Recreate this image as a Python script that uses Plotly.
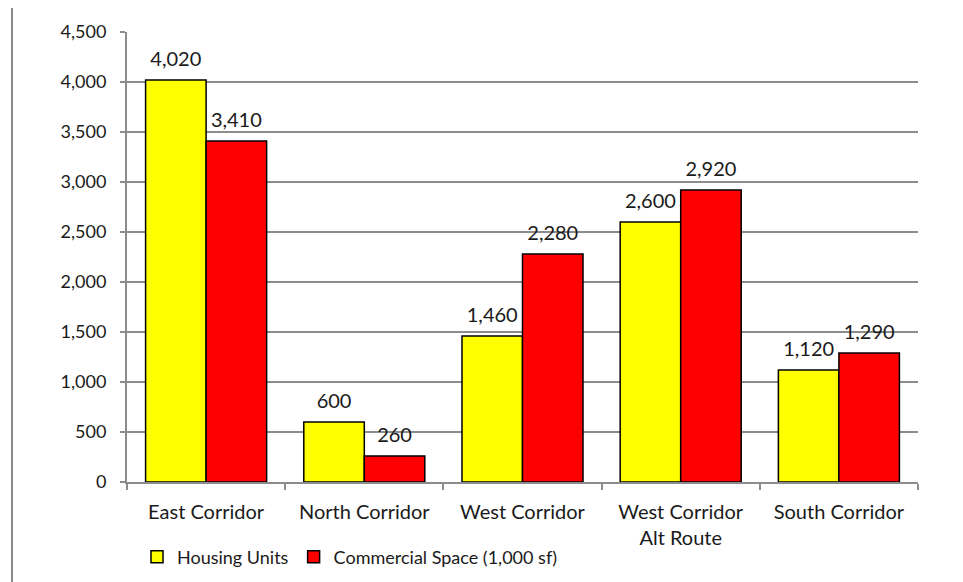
import plotly.graph_objects as go

categories = ["East Corridor", "North Corridor", "West Corridor", "West Corridor<br>Alt Route", "South Corridor"]
housing_units = [4020, 600, 1460, 2600, 1120]
commercial_space = [3410, 260, 2280, 2920, 1290]
y_ticks = [0, 500, 1000, 1500, 2000, 2500, 3000, 3500, 4000, 4500]
y_tick_labels = ["0", "500", "1,000", "1,500", "2,000", "2,500", "3,000", "3,500", "4,000", "4,500"]

font_family = "Lato, Open Sans, sans-serif"
txt_color = "#1a1a1a"
grid_color = "#8c8c8c"
gap = 0.235

fig = go.Figure()
fig.add_trace(go.Bar(
    x=categories, y=housing_units, name="Housing Units",
    marker=dict(color="#FFFF00", line=dict(color="black", width=1.5)),
    hoverinfo="x+y",
))
fig.add_trace(go.Bar(
    x=categories, y=commercial_space, name="Commercial Space (1,000 sf)",
    marker=dict(color="#FF0000", line=dict(color="black", width=1.5)),
    hoverinfo="x+y",
))
# value labels, grouped the same way as the bars
for vals in (housing_units, commercial_space):
    fig.add_trace(go.Scatter(
        x=categories, y=vals, mode="markers+text",
        text=[f"{v:,}" for v in vals], textposition="top center",
        textfont=dict(size=20, color=txt_color, family=font_family),
        marker=dict(size=13, color="rgba(0,0,0,0)"),
        showlegend=False, hoverinfo="skip", cliponaxis=False,
    ))

fig.update_layout(
    width=955, height=574,
    margin=dict(l=119, r=45, t=24, b=100, autoexpand=False),
    paper_bgcolor="white", plot_bgcolor="white",
    barmode="group", bargap=gap, bargroupgap=0,
    scattermode="group", scattergap=gap,
    font=dict(family=font_family, size=18, color=txt_color),
    showlegend=True,
    legend=dict(orientation="h", xref="container", yref="container",
                x=(137 - 8) / 955, y=(582 - 557) / 574, xanchor="left", yanchor="middle",
                font=dict(size=18, color=txt_color), itemwidth=30, traceorder="normal",
                bgcolor="rgba(0,0,0,0)"),
    xaxis=dict(
        showline=True, linecolor=grid_color, linewidth=2,
        ticks="outside", ticklen=6, tickcolor=grid_color, tickwidth=2,
        tickson="boundaries", tickfont=dict(size=20), automargin=False,
        ticklabelstandoff=11,
    ),
    yaxis=dict(
        range=[0, 4500], tickvals=y_ticks, ticktext=y_tick_labels,
        showline=True, linecolor=grid_color, linewidth=2,
        ticks="outside", ticklen=5, tickcolor=grid_color, tickwidth=2,
        showgrid=True, gridcolor=grid_color, gridwidth=2,
        tickfont=dict(size=18), zeroline=False, automargin=False,
        ticklabelstandoff=10,
    ),
    shapes=[dict(type="line", xref="paper", yref="paper",
                 x0=(4 - 119) / 791, x1=(4 - 119) / 791,
                 y0=1 + 24 / 450, y1=-100 / 450,
                 line=dict(color=grid_color, width=2))],
)

fig.write_html("out.html")
